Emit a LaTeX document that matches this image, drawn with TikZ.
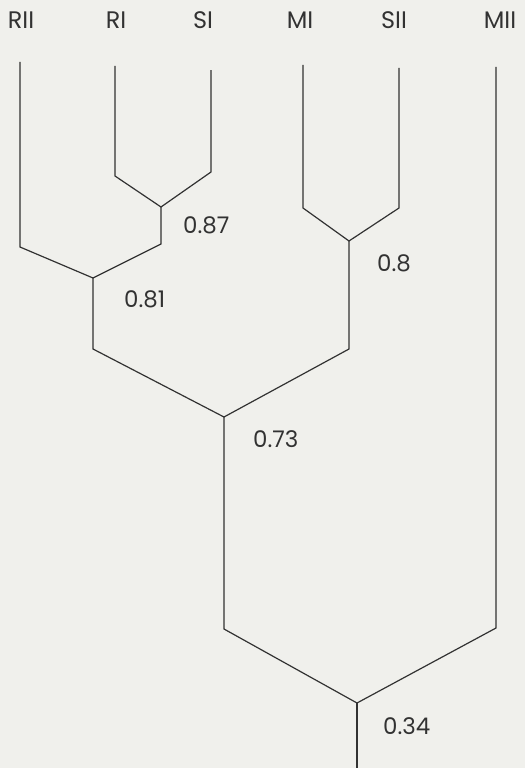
\documentclass[tikz,border=0pt]{standalone}
\usepackage{fontspec}
\setmainfont{Poppins}
\usetikzlibrary{positioning}
\definecolor{paper}{RGB}{240,240,236}
\definecolor{ink}{RGB}{50,50,50}

\begin{document}
\begin{tikzpicture}[x=1bp,y=-1bp,
    branch/.style={draw=ink, line width=1.2bp, line join=miter},
    taxon/.style={font=\fontsize{24}{26}\selectfont, text=ink, inner sep=0pt},
    simval/.style={font=\fontsize{23}{25}\selectfont, text=ink, inner sep=0pt, anchor=west}]
        %sfondo
        \fill[paper] (0,0) rectangle (525,768);
        \useasboundingbox (0,0) rectangle (525,768);
        %etichette foglie
        \node[taxon] (RII) at (21,20) {RII};
        \node[taxon] (RI) at (116,20) {RI};
        \node[taxon] (SI) at (203,20) {SI};
        \node[taxon] (MI) at (300,20) {MI};
        \node[taxon] (SII) at (394,20) {SII};
        \node[taxon] (MII) at (500,20) {MII};
        %estremi delle foglie
        \coordinate (rii top) at (20,62);   \coordinate (rii bot) at (20,247);
        \coordinate (ri top) at (115,66);   \coordinate (ri bot) at (115,176);
        \coordinate (si top) at (211,70);   \coordinate (si bot) at (211,172);
        \coordinate (mi top) at (303,65);   \coordinate (mi bot) at (303,208);
        \coordinate (sii top) at (399,68);  \coordinate (sii bot) at (399,208);
        \coordinate (mii top) at (496,67);  \coordinate (mii bot) at (496,628);
        %nodi interni
        \coordinate (j87) at (161,207);  \coordinate (j87 bot) at (161,244);
        \coordinate (j81) at (93,278);   \coordinate (j81 bot) at (93,349);
        \coordinate (j80) at (349,241);  \coordinate (j80 bot) at (349,349);
        \coordinate (j73) at (224,417);  \coordinate (j73 bot) at (224,629);
        \coordinate (j34) at (357,703);  \coordinate (root) at (357,768);
        %rami
        \draw[branch] (ri top) -- (ri bot) -- (j87) -- (si bot) -- (si top);
        \draw[branch] (rii top) -- (rii bot) -- (j81) -- (j87 bot) -- (j87);
        \draw[branch] (mi top) -- (mi bot) -- (j80) -- (sii bot) -- (sii top);
        \draw[branch] (j81) -- (j81 bot) -- (j73) -- (j80 bot) -- (j80);
        \draw[branch] (j73) -- (j73 bot) -- (j34) -- (mii bot) -- (mii top);
        \draw[branch] (j34) -- (root);
        %valori di similarita
        \node[simval] (v87) at (183,225) {0.87};
        \node[simval] (v81) at (124,299) {0.81};
        \node[simval] (v80) at (377,263) {0.8};
        \node[simval] (v73) at (253,439) {0.73};
        \node[simval] (v34) at (383,726) {0.34};
\end{tikzpicture}
\end{document}
